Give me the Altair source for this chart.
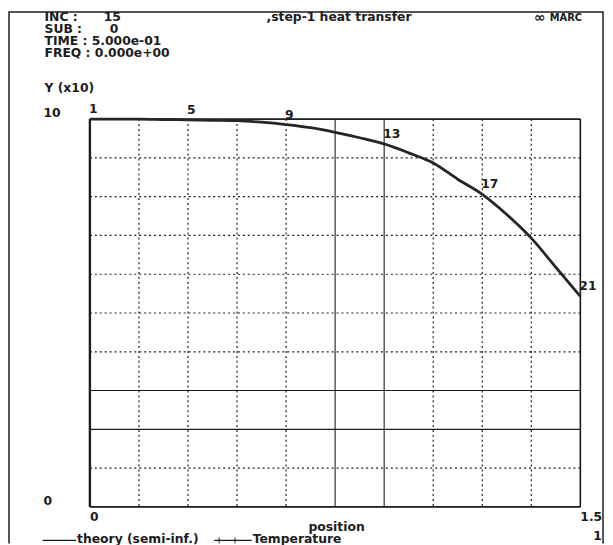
import altair as alt
import pandas as pd

# ---- data ----
node_ids = [1, 2, 3, 4, 5, 6, 7, 8, 9, 10, 11, 12, 13, 14, 15, 16, 17, 18, 19, 20, 21]
positions = [0.0, 0.075, 0.15, 0.225, 0.3, 0.375, 0.45, 0.525, 0.6, 0.675, 0.75,
             0.825, 0.9, 0.975, 1.05, 1.125, 1.2, 1.275, 1.35, 1.425, 1.5]
temperature = [100.0, 100.0, 100.0, 99.9, 99.8, 99.7, 99.6, 99.2, 98.6, 97.8, 96.6,
               95.2, 93.6, 91.3, 88.7, 84.5, 80.6, 75.4, 69.3, 61.8, 54.3]
theory = [100.0, 100.0, 100.0, 99.9, 99.8, 99.7, 99.6, 99.2, 98.6, 97.8, 96.6,
          95.2, 93.6, 91.3, 88.7, 84.5, 80.6, 75.4, 69.3, 61.8, 54.3]
labelled_nodes = [1, 5, 9, 13, 17, 21]

grid_x = [0.15, 0.3, 0.45, 0.6, 0.75, 0.9, 1.05, 1.2, 1.35]
grid_x_solid = [0.75, 0.9]
grid_y = [10, 20, 30, 40, 50, 60, 70, 80, 90]
grid_y_solid = [20, 30]

x_tick_values = [0.0, 1.5]
x_tick_labels = ["0", "1.5"]
y_tick_values = [0, 100]
y_tick_labels = ["0", "10"]

W, H = 497, 393
FONT = "DejaVu Sans, Liberation Sans, Arial, sans-serif"
FS = 12.5
INK = "#1c1c1c"

xs = alt.Scale(domain=[0, 1.5], nice=False, zero=False)
ys = alt.Scale(domain=[0, 100], nice=False)

curve = pd.DataFrame({"node": node_ids, "pos": positions, "temp": temperature, "theory": theory})
lab = curve[curve["node"].isin(labelled_nodes)].copy()
lab["txt"] = lab["node"].astype(str)

gx = pd.DataFrame({"v": grid_x})
gx["solid"] = gx["v"].isin(grid_x_solid)
gy = pd.DataFrame({"v": grid_y})
gy["solid"] = gy["v"].isin(grid_y_solid)
xt = pd.DataFrame({"v": x_tick_values, "t": x_tick_labels})
yt = pd.DataFrame({"v": y_tick_values, "t": y_tick_labels})
dummy = pd.DataFrame({"a": [0]})


def txt(s, x, y, size=FS, align="left", weight="bold"):
    return alt.Chart(dummy).mark_text(
        align=align, baseline="middle", fontSize=size, fontWeight=weight, font=FONT, color=INK
    ).encode(x=alt.value(x), y=alt.value(y), text=alt.value(s))


def hrule(x1, x2, y, w=1.0):
    return alt.Chart(dummy).mark_rule(color=INK, strokeWidth=w).encode(
        x=alt.value(x1), x2=alt.value(x2), y=alt.value(y))


def vrule(x, y1, y2, w=1.0):
    return alt.Chart(dummy).mark_rule(color=INK, strokeWidth=w).encode(
        x=alt.value(x), y=alt.value(y1), y2=alt.value(y2))


# grid
gx_dot = alt.Chart(gx).transform_filter("!datum.solid").mark_rule(
    color=INK, strokeWidth=1.2, strokeDash=[2, 3]).encode(x=alt.X("v:Q", scale=xs, axis=None))
gx_sol = alt.Chart(gx).transform_filter("datum.solid").mark_rule(
    color=INK, strokeWidth=1.1).encode(x=alt.X("v:Q", scale=xs, axis=None))
gy_dot = alt.Chart(gy).transform_filter("!datum.solid").mark_rule(
    color=INK, strokeWidth=1.2, strokeDash=[2, 3]).encode(y=alt.Y("v:Q", scale=ys, axis=None))
gy_sol = alt.Chart(gy).transform_filter("datum.solid").mark_rule(
    color=INK, strokeWidth=1.1).encode(y=alt.Y("v:Q", scale=ys, axis=None))

# plot frame
frame = [
    vrule(0, 0, H, 2.4),
    vrule(W, 0, H, 1.6),
    hrule(0, W, 0, 1.6),
    hrule(0, W, H, 1.6),
]

# curves
theory_line = alt.Chart(curve).mark_line(
    color="#2a2a2a", strokeWidth=1.4, interpolate="monotone").encode(
    x=alt.X("pos:Q", scale=xs, axis=None), y=alt.Y("theory:Q", scale=ys, axis=None))
temp_line = alt.Chart(curve).mark_line(
    color="#262626", strokeWidth=2.8, interpolate="monotone").encode(
    x=alt.X("pos:Q", scale=xs, axis=None), y=alt.Y("temp:Q", scale=ys, axis=None))
node_labels = alt.Chart(lab).mark_text(
    align="left", baseline="middle", dx=-1, dy=-10, fontSize=FS, fontWeight="bold", font=FONT, color=INK
).encode(x=alt.X("pos:Q", scale=xs, axis=None), y=alt.Y("temp:Q", scale=ys, axis=None), text="txt:N")

# tick labels
x_labels = alt.Chart(xt).mark_text(
    align="left", baseline="middle", fontSize=FS, fontWeight="bold", font=FONT, color=INK
).encode(x=alt.X("v:Q", scale=xs, axis=None), y=alt.value(H + 10), text="t:N")
y_labels = alt.Chart(yt).mark_text(
    align="left", baseline="middle", dy=-6, fontSize=FS, fontWeight="bold", font=FONT, color=INK
).encode(x=alt.value(-47), y=alt.Y("v:Q", scale=ys, axis=None), text="t:N")

# header / legend texts (offsets from the plot origin)
texts = [
    txt("INC :", -46, -103),
    txt("15", 14, -103),
    txt("SUB :", -46, -91),
    txt("0", 20, -91),
    txt("TIME : 5.000e-01", -46, -79),
    txt("FREQ : 0.000e+00", -46, -67),
    txt(",step-1 heat transfer", 179, -103),
    txt("\u221e", 450, -102, size=14),
    txt("MARC", 466, -102, size=10),
    txt("Y (x10)", -46, -31),
    txt("position", 250, 413, align="center"),
    txt("theory (semi-inf.)", -13, 426),
    txt("Temperature", 165, 426),
    txt("1", 510, 423),
]
legend_lines = [
    hrule(-48, -14, 427, 1.2),
    hrule(126, 164, 427, 1.2),
    vrule(131, 424, 430, 1.0),
    vrule(147, 424, 430, 1.0),
]
outer = [
    vrule(-82, -109, 430, 1.5),
    hrule(-82, 520, -108.5, 1.5),
    vrule(520, -109, 430, 1.5),
]

chart = alt.layer(
    gx_dot, gx_sol, gy_dot, gy_sol, *frame, theory_line, temp_line, node_labels,
    x_labels, y_labels, *texts, *legend_lines, *outer
).properties(
    width=W, height=H,
    autosize=alt.AutoSizeParams(type="none"),
    padding={"left": 83, "top": 109, "right": 25, "bottom": 35},
).configure_view(stroke=None).configure(background="white")

chart.save("out.html", embed_options={"renderer": "svg", "actions": False})
